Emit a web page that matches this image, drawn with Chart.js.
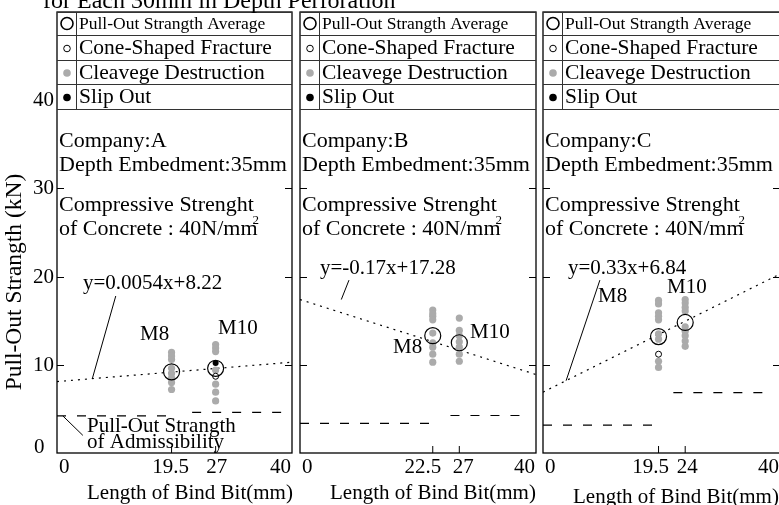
<!DOCTYPE html>
<html>
<head>
<meta charset="utf-8">
<script src="https://cdn.jsdelivr.net/npm/chart.js@4.4.0/dist/chart.umd.min.js"></script>
<style>
  html, body { margin: 0; padding: 0; background: #fff; overflow: hidden; }
  #wrap { position: relative; width: 779px; height: 505px; overflow: hidden; background: #fff; }
  canvas { position: absolute; left: 0; top: 0; }
</style>
</head>
<body>
<div id="wrap">
  <canvas id="chartA" width="779" height="505"></canvas>
  <canvas id="chartB" width="779" height="505"></canvas>
  <canvas id="chartC" width="790" height="505"></canvas>
</div>
<script>
// ==== Data ====
const yTicks = [0, 10, 20, 30, 40];
const boltSizes = ["M8", "M10"];

// Company A
const xTicksA = [0, 19.5, 27, 40];
const cleavA8 = [11.4, 11.0, 10.6, 9.6, 9.0, 8.5, 8.0, 7.2];
const cleavA10 = [12.3, 11.9, 11.5, 9.4, 7.8, 6.9, 5.9];
const coneA8 = [];
const coneA10 = [8.7];
const slipA8 = [];
const slipA10 = [10.2];
const avgA = [9.2, 9.6];
const fitA = [8.1, 10.3];          // at x = 0 and x = 40
const admA = [4.2, 4.6];
const admSpanA = [[0, 19.5], [23, 40]];

// Company B
const xTicksB = [0, 22.5, 27, 40];
const cleavB8 = [16.2, 15.8, 15.5, 15.1, 13.6, 12.5, 12.0, 11.2, 10.3];
const cleavB10 = [15.3, 13.9, 13.3, 12.6, 12.0, 11.2, 10.4];
const coneB8 = [];
const coneB10 = [];
const slipB8 = [];
const slipB10 = [];
const avgB = [13.3, 12.5];
const fitB = [17.4, 8.9];
const admB = [3.35, 4.25];
const admSpanB = [[0, 23], [25.5, 38]];

// Company C
const xTicksC = [0, 19.5, 24, 40];
const cleavC8 = [17.3, 16.9, 15.9, 15.5, 15.1, 13.5, 12.9, 10.4, 9.7];
const cleavC10 = [17.4, 17.0, 16.5, 16.1, 14.3, 13.8, 13.3, 12.7, 12.1];
const coneC8 = [11.2];
const coneC10 = [];
const slipC8 = [];
const slipC10 = [];
const avgC = [13.2, 14.8];
const fitC = [6.9, 20.3];
const admC = [3.15, 6.85];
const admSpanC = [[0, 20], [22, 38]];

const legendLabels = ["Pull-Out Strangth Average", "Cone-Shaped Fracture", "Cleavege Destruction", "Slip Out"];

// ==== Styles ====
const FONT = '"Liberation Serif", "Times New Roman", serif';
const GRAY = "#ababab";

function pts(x, ys) {
  return ys.map(y => ({ x: x, y: y }));
}

function makeDatasets(xt, c8, c10, k8, k10, s8, s10, avg, fit, adm, spans) {
  const bx = [xt[1], xt[2]];
  return [
    {
      label: "avg", data: bx.map((x, i) => ({ x: x, y: avg[i] })),
      pointRadius: 8, pointBackgroundColor: "rgba(0,0,0,0)",
      pointBorderColor: "#000", pointBorderWidth: 1.2
    },
    {
      label: "slip", data: pts(bx[0], s8).concat(pts(bx[1], s10)),
      pointRadius: 3, pointBackgroundColor: "#000", pointBorderWidth: 0
    },
    {
      label: "cone", data: pts(bx[0], k8).concat(pts(bx[1], k10)),
      pointRadius: 3, pointBackgroundColor: "#fff",
      pointBorderColor: "#000", pointBorderWidth: 1
    },
    {
      label: "cleav", data: pts(bx[0], c8).concat(pts(bx[1], c10)),
      pointRadius: 3.6, pointBackgroundColor: GRAY, pointBorderWidth: 0
    },
    {
      label: "fit", data: [{ x: 0, y: fit[0] }, { x: 40, y: fit[1] }],
      showLine: true, pointRadius: 0, borderColor: "#000",
      borderWidth: 1.2, borderDash: [2, 5]
    },
    {
      label: "adm1", data: [{ x: spans[0][0], y: adm[0] }, { x: spans[0][1], y: adm[0] }],
      showLine: true, pointRadius: 0, borderColor: "#000",
      borderWidth: 1.2, borderDash: [9, 11]
    },
    {
      label: "adm2", data: [{ x: spans[1][0], y: adm[1] }, { x: spans[1][1], y: adm[1] }],
      showLine: true, pointRadius: 0, borderColor: "#000",
      borderWidth: 1.2, borderDash: [9, 11]
    }
  ];
}

// ==== Frame, ticks, legend table and notes ====
const panelDeco = {
  id: "panelDeco",
  afterDraw(chart, args, o) {
    const ctx = chart.ctx;
    const ca = chart.chartArea;
    const xs = chart.scales.x, ys = chart.scales.y;
    const line = (x1, y1, x2, y2) => { ctx.beginPath(); ctx.moveTo(x1, y1); ctx.lineTo(x2, y2); ctx.stroke(); };
    const text = (s, x, y, size, align) => {
      ctx.font = size + "px " + FONT;
      ctx.textAlign = align || "left";
      ctx.fillText(s, x, y);
    };
    ctx.save();
    ctx.strokeStyle = "#000";
    ctx.fillStyle = "#000";
    ctx.textBaseline = "middle";

    // frame
    ctx.lineWidth = 1.3;
    ctx.strokeRect(ca.left, ca.top, ca.right - ca.left, ca.bottom - ca.top);

    // y ticks, inside on both sides (40 sits inside the legend table)
    ctx.lineWidth = 1;
    yTicks.forEach(v => {
      if (v === 0) return;
      const y = Math.round(ys.getPixelForValue(v)) + 0.5;
      if (v < 40) {
        line(ca.left, y, ca.left + 7, y);
        line(ca.right - 7, y, ca.right, y);
      }
      if (o.yLabels) text(String(v), 33, y, 21);
    });
    if (o.yLabels) text("0", 34, ys.getPixelForValue(0) - 6, 21);

    // x ticks and labels (middle labels nudged apart where they crowd)
    o.xTicks.forEach((v, i) => {
      const x = xs.getPixelForValue(v);
      const ly = ca.bottom + 14;
      if (i === 0) text(String(v), ca.left + 2, ly, 21);
      else if (i === o.xTicks.length - 1) text(String(v), ca.right - 1, ly, 21, "right");
      else {
        line(x, ca.bottom, x, ca.bottom - 7);
        text(String(v), x + o.labelShift[i - 1], ly, 21, "center");
      }
    });
    text("Length of Bind Bit(mm)", ca.left + 30, o.xTitleY, 21);

    // legend table
    const rows = [0, 23, 48, 72, 97].map(d => ca.top + d);
    ctx.lineWidth = 1;
    ctx.strokeStyle = "#333";
    rows.forEach(y => line(ca.left, y + 0.5, ca.right, y + 0.5));
    line(ca.left + 19.5, rows[0], ca.left + 19.5, rows[4]);
    ctx.strokeStyle = "#000";
    const sx = ca.left + 10;
    legendLabels.forEach((lab, i) => {
      const cy = (rows[i] + rows[i + 1]) / 2 + 1;
      text(lab, ca.left + 22, cy, i === 0 ? 17.5 : 21.5);
      ctx.beginPath();
      if (i === 0) {
        ctx.lineWidth = 1.6; ctx.arc(sx, cy - 1, 6, 0, Math.PI * 2); ctx.stroke();
      } else if (i === 1) {
        ctx.lineWidth = 1; ctx.arc(sx, cy, 3.3, 0, Math.PI * 2); ctx.stroke();
      } else {
        ctx.fillStyle = i === 2 ? GRAY : "#000";
        ctx.arc(sx, cy, 3.8, 0, Math.PI * 2); ctx.fill();
        ctx.fillStyle = "#000";
      }
    });

    // company notes
    const nx = ca.left + 2;
    text("Company:" + o.company, nx, 141, 22);
    text("Depth Embedment:35mm", nx, 165, 22);
    text("Compressive Strenght", nx, 205, 22);
    ctx.font = "22px " + FONT;
    const w = ctx.measureText("of Concrete : 40N/mm").width;
    text("of Concrete : 40N/mm", nx, 229, 22);
    text("2", nx + w - 5, 221, 13);

    // regression label, bolt labels, leaders
    text(o.fitText, o.fitPos[0], o.fitPos[1], 21);
    text(boltSizes[0], o.m8Pos[0], o.m8Pos[1], 21);
    text(boltSizes[1], o.m10Pos[0], o.m10Pos[1], 21);
    ctx.lineWidth = 1;
    o.leaders.forEach(l => line(xs.getPixelForValue(l[0]), ys.getPixelForValue(l[1]),
                                xs.getPixelForValue(l[2]), ys.getPixelForValue(l[3])));
    if (o.admText) {
      text("Pull-Out Strangth", o.admText[0], o.admText[1], 21);
      text("of Admissibility", o.admText[0], o.admText[1] + 16, 21);
    }
    if (o.pageText) {
      text("for Each 30mm in Depth Perforation", 43, 2, 24);
      ctx.save();
      ctx.translate(15, 282);
      ctx.rotate(-Math.PI / 2);
      text("Pull-Out Strangth (kN)", 0, 0, 23.5, "center");
      ctx.restore();
    }
    ctx.restore();
  }
};

function makeChart(id, padL, padR, datasets, deco) {
  return new Chart(document.getElementById(id), {
    type: "scatter",
    data: { datasets: datasets },
    options: {
      responsive: false,
      animation: false,
      events: [],
      layout: { padding: { left: padL, right: padR, top: 12, bottom: 52 } },
      scales: {
        x: { type: "linear", min: 0, max: 40, display: false },
        y: { type: "linear", min: 0, max: 50, display: false }
      },
      plugins: { legend: { display: false }, tooltip: { enabled: false }, panelDeco: deco }
    },
    plugins: [panelDeco]
  });
}

makeChart("chartA", 57, 779 - 292,
  makeDatasets(xTicksA, cleavA8, cleavA10, coneA8, coneA10, slipA8, slipA10, avgA, fitA, admA, admSpanA),
  {
    company: "A", xTicks: xTicksA, labelShift: [-1, 1], yLabels: true, pageText: true, xTitleY: 493,
    fitText: "y=0.0054x+8.22", fitPos: [83, 283], m8Pos: [140, 334], m10Pos: [218, 328],
    leaders: [[10.0, 17.8, 6.0, 8.4], [1.0, 4.2, 4.4, 2.0]],
    admText: [87, 426]
  });

makeChart("chartB", 300, 779 - 536,
  makeDatasets(xTicksB, cleavB8, cleavB10, coneB8, coneB10, slipB8, slipB10, avgB, fitB, admB, admSpanB),
  {
    company: "B", xTicks: xTicksB, labelShift: [-10, 4], xTitleY: 493,
    fitText: "y=-0.17x+17.28", fitPos: [320, 268], m8Pos: [393, 347], m10Pos: [470, 332],
    leaders: [[8.3, 19.6, 7.0, 17.4]]
  });

makeChart("chartC", 543, 790 - 780,
  makeDatasets(xTicksC, cleavC8, cleavC10, coneC8, coneC10, slipC8, slipC10, avgC, fitC, admC, admSpanC),
  {
    company: "C", xTicks: xTicksC, labelShift: [-8, 2], xTitleY: 497,
    fitText: "y=0.33x+6.84", fitPos: [568, 268], m8Pos: [598, 296], m10Pos: [667, 287],
    leaders: [[9.6, 19.6, 3.9, 8.2]]
  });
</script>
</body>
</html>
